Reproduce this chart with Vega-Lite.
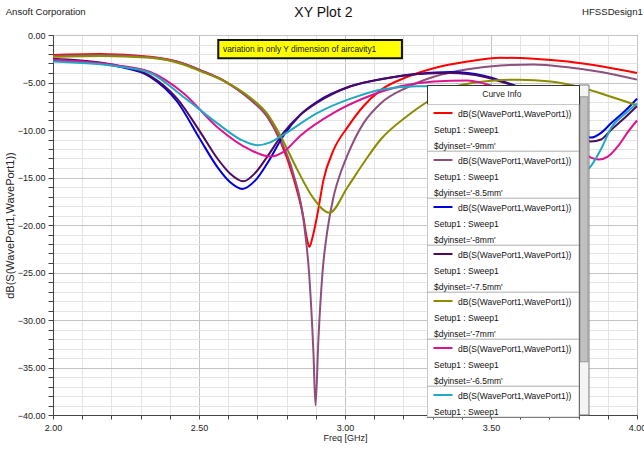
{
  "$schema": "https://vega.github.io/schema/vega-lite/v6.json",
  "width": 584,
  "height": 380,
  "autosize": {"type": "none"},
  "padding": {"left": 53, "top": 35, "right": 7, "bottom": 35},
  "background": "white",
  "config": {
    "font": "Liberation Sans, Arial, sans-serif",
    "view": {"stroke": "#444", "strokeWidth": 1}
  },
  "layer": [
    {
      "data": {"values": [
        {"series": "$dyinset='-9mm'", "freq": 2.000, "db": -2.1},
        {"series": "$dyinset='-9mm'", "freq": 2.161, "db": -2.0},
        {"series": "$dyinset='-9mm'", "freq": 2.333, "db": -2.3},
        {"series": "$dyinset='-9mm'", "freq": 2.446, "db": -3.0},
        {"series": "$dyinset='-9mm'", "freq": 2.504, "db": -3.7},
        {"series": "$dyinset='-9mm'", "freq": 2.590, "db": -4.9},
        {"series": "$dyinset='-9mm'", "freq": 2.676, "db": -6.8},
        {"series": "$dyinset='-9mm'", "freq": 2.734, "db": -8.6},
        {"series": "$dyinset='-9mm'", "freq": 2.779, "db": -11.2},
        {"series": "$dyinset='-9mm'", "freq": 2.823, "db": -15.0},
        {"series": "$dyinset='-9mm'", "freq": 2.858, "db": -19.3},
        {"series": "$dyinset='-9mm'", "freq": 2.870, "db": -21.5},
        {"series": "$dyinset='-9mm'", "freq": 2.878, "db": -22.3},
        {"series": "$dyinset='-9mm'", "freq": 2.888, "db": -21.4},
        {"series": "$dyinset='-9mm'", "freq": 2.906, "db": -18.8},
        {"series": "$dyinset='-9mm'", "freq": 2.926, "db": -15.3},
        {"series": "$dyinset='-9mm'", "freq": 2.961, "db": -12.1},
        {"series": "$dyinset='-9mm'", "freq": 3.009, "db": -9.7},
        {"series": "$dyinset='-9mm'", "freq": 3.063, "db": -7.5},
        {"series": "$dyinset='-9mm'", "freq": 3.122, "db": -5.8},
        {"series": "$dyinset='-9mm'", "freq": 3.214, "db": -4.4},
        {"series": "$dyinset='-9mm'", "freq": 3.304, "db": -3.5},
        {"series": "$dyinset='-9mm'", "freq": 3.420, "db": -2.8},
        {"series": "$dyinset='-9mm'", "freq": 3.533, "db": -2.4},
        {"series": "$dyinset='-9mm'", "freq": 3.647, "db": -2.5},
        {"series": "$dyinset='-9mm'", "freq": 3.763, "db": -2.8},
        {"series": "$dyinset='-9mm'", "freq": 3.877, "db": -3.3},
        {"series": "$dyinset='-9mm'", "freq": 4.000, "db": -4.0},

        {"series": "$dyinset='-8.5mm'", "freq": 2.000, "db": -2.2},
        {"series": "$dyinset='-8.5mm'", "freq": 2.161, "db": -2.1},
        {"series": "$dyinset='-8.5mm'", "freq": 2.333, "db": -2.35},
        {"series": "$dyinset='-8.5mm'", "freq": 2.446, "db": -3.0},
        {"series": "$dyinset='-8.5mm'", "freq": 2.504, "db": -3.7},
        {"series": "$dyinset='-8.5mm'", "freq": 2.590, "db": -4.9},
        {"series": "$dyinset='-8.5mm'", "freq": 2.676, "db": -6.8},
        {"series": "$dyinset='-8.5mm'", "freq": 2.734, "db": -8.6},
        {"series": "$dyinset='-8.5mm'", "freq": 2.779, "db": -11.0},
        {"series": "$dyinset='-8.5mm'", "freq": 2.823, "db": -14.6},
        {"series": "$dyinset='-8.5mm'", "freq": 2.858, "db": -19.5},
        {"series": "$dyinset='-8.5mm'", "freq": 2.878, "db": -25.5},
        {"series": "$dyinset='-8.5mm'", "freq": 2.892, "db": -33.5},
        {"series": "$dyinset='-8.5mm'", "freq": 2.899, "db": -39.0},
        {"series": "$dyinset='-8.5mm'", "freq": 2.909, "db": -32.0},
        {"series": "$dyinset='-8.5mm'", "freq": 2.923, "db": -25.0},
        {"series": "$dyinset='-8.5mm'", "freq": 2.940, "db": -20.5},
        {"series": "$dyinset='-8.5mm'", "freq": 2.961, "db": -17.0},
        {"series": "$dyinset='-8.5mm'", "freq": 2.985, "db": -14.5},
        {"series": "$dyinset='-8.5mm'", "freq": 3.009, "db": -12.6},
        {"series": "$dyinset='-8.5mm'", "freq": 3.063, "db": -9.3},
        {"series": "$dyinset='-8.5mm'", "freq": 3.122, "db": -7.2},
        {"series": "$dyinset='-8.5mm'", "freq": 3.214, "db": -5.5},
        {"series": "$dyinset='-8.5mm'", "freq": 3.304, "db": -4.4},
        {"series": "$dyinset='-8.5mm'", "freq": 3.420, "db": -3.6},
        {"series": "$dyinset='-8.5mm'", "freq": 3.533, "db": -3.2},
        {"series": "$dyinset='-8.5mm'", "freq": 3.647, "db": -3.1},
        {"series": "$dyinset='-8.5mm'", "freq": 3.763, "db": -3.4},
        {"series": "$dyinset='-8.5mm'", "freq": 3.877, "db": -3.9},
        {"series": "$dyinset='-8.5mm'", "freq": 4.000, "db": -4.7},

        {"series": "$dyinset='-8mm'", "freq": 2.000, "db": -2.7},
        {"series": "$dyinset='-8mm'", "freq": 2.161, "db": -3.0},
        {"series": "$dyinset='-8mm'", "freq": 2.220, "db": -3.3},
        {"series": "$dyinset='-8mm'", "freq": 2.333, "db": -4.4},
        {"series": "$dyinset='-8mm'", "freq": 2.425, "db": -7.0},
        {"series": "$dyinset='-8mm'", "freq": 2.504, "db": -11.0},
        {"series": "$dyinset='-8mm'", "freq": 2.563, "db": -13.9},
        {"series": "$dyinset='-8mm'", "freq": 2.607, "db": -15.5},
        {"series": "$dyinset='-8mm'", "freq": 2.648, "db": -16.2},
        {"series": "$dyinset='-8mm'", "freq": 2.693, "db": -15.3},
        {"series": "$dyinset='-8mm'", "freq": 2.734, "db": -13.5},
        {"series": "$dyinset='-8mm'", "freq": 2.789, "db": -10.6},
        {"series": "$dyinset='-8mm'", "freq": 2.847, "db": -8.4},
        {"series": "$dyinset='-8mm'", "freq": 2.906, "db": -7.0},
        {"series": "$dyinset='-8mm'", "freq": 3.019, "db": -5.4},
        {"series": "$dyinset='-8mm'", "freq": 3.132, "db": -4.6},
        {"series": "$dyinset='-8mm'", "freq": 3.249, "db": -4.1},
        {"series": "$dyinset='-8mm'", "freq": 3.362, "db": -3.9},
        {"series": "$dyinset='-8mm'", "freq": 3.420, "db": -4.0},
        {"series": "$dyinset='-8mm'", "freq": 3.475, "db": -4.3},
        {"series": "$dyinset='-8mm'", "freq": 3.533, "db": -4.8},
        {"series": "$dyinset='-8mm'", "freq": 3.647, "db": -6.2},
        {"series": "$dyinset='-8mm'", "freq": 3.739, "db": -8.2},
        {"series": "$dyinset='-8mm'", "freq": 3.808, "db": -10.3},
        {"series": "$dyinset='-8mm'", "freq": 3.842, "db": -10.8},
        {"series": "$dyinset='-8mm'", "freq": 3.877, "db": -10.3},
        {"series": "$dyinset='-8mm'", "freq": 3.911, "db": -9.3},
        {"series": "$dyinset='-8mm'", "freq": 3.962, "db": -7.9},
        {"series": "$dyinset='-8mm'", "freq": 4.000, "db": -6.7},

        {"series": "$dyinset='-7.5mm'", "freq": 2.000, "db": -2.5},
        {"series": "$dyinset='-7.5mm'", "freq": 2.161, "db": -2.9},
        {"series": "$dyinset='-7.5mm'", "freq": 2.220, "db": -3.2},
        {"series": "$dyinset='-7.5mm'", "freq": 2.333, "db": -4.3},
        {"series": "$dyinset='-7.5mm'", "freq": 2.425, "db": -6.7},
        {"series": "$dyinset='-7.5mm'", "freq": 2.504, "db": -10.2},
        {"series": "$dyinset='-7.5mm'", "freq": 2.563, "db": -13.0},
        {"series": "$dyinset='-7.5mm'", "freq": 2.607, "db": -14.6},
        {"series": "$dyinset='-7.5mm'", "freq": 2.652, "db": -15.4},
        {"series": "$dyinset='-7.5mm'", "freq": 2.693, "db": -14.5},
        {"series": "$dyinset='-7.5mm'", "freq": 2.734, "db": -12.8},
        {"series": "$dyinset='-7.5mm'", "freq": 2.789, "db": -10.3},
        {"series": "$dyinset='-7.5mm'", "freq": 2.847, "db": -8.4},
        {"series": "$dyinset='-7.5mm'", "freq": 2.906, "db": -7.1},
        {"series": "$dyinset='-7.5mm'", "freq": 3.019, "db": -5.4},
        {"series": "$dyinset='-7.5mm'", "freq": 3.132, "db": -4.6},
        {"series": "$dyinset='-7.5mm'", "freq": 3.249, "db": -4.1},
        {"series": "$dyinset='-7.5mm'", "freq": 3.362, "db": -4.0},
        {"series": "$dyinset='-7.5mm'", "freq": 3.475, "db": -4.4},
        {"series": "$dyinset='-7.5mm'", "freq": 3.533, "db": -4.9},
        {"series": "$dyinset='-7.5mm'", "freq": 3.647, "db": -6.2},
        {"series": "$dyinset='-7.5mm'", "freq": 3.739, "db": -8.0},
        {"series": "$dyinset='-7.5mm'", "freq": 3.808, "db": -10.5},
        {"series": "$dyinset='-7.5mm'", "freq": 3.842, "db": -11.2},
        {"series": "$dyinset='-7.5mm'", "freq": 3.877, "db": -11.0},
        {"series": "$dyinset='-7.5mm'", "freq": 3.911, "db": -10.0},
        {"series": "$dyinset='-7.5mm'", "freq": 3.962, "db": -8.6},
        {"series": "$dyinset='-7.5mm'", "freq": 4.000, "db": -7.5},

        {"series": "$dyinset='-7mm'", "freq": 2.000, "db": -2.3},
        {"series": "$dyinset='-7mm'", "freq": 2.161, "db": -2.2},
        {"series": "$dyinset='-7mm'", "freq": 2.333, "db": -2.4},
        {"series": "$dyinset='-7mm'", "freq": 2.446, "db": -3.1},
        {"series": "$dyinset='-7mm'", "freq": 2.504, "db": -3.8},
        {"series": "$dyinset='-7mm'", "freq": 2.590, "db": -4.9},
        {"series": "$dyinset='-7mm'", "freq": 2.676, "db": -6.6},
        {"series": "$dyinset='-7mm'", "freq": 2.734, "db": -8.3},
        {"series": "$dyinset='-7mm'", "freq": 2.779, "db": -10.6},
        {"series": "$dyinset='-7mm'", "freq": 2.837, "db": -14.2},
        {"series": "$dyinset='-7mm'", "freq": 2.892, "db": -17.2},
        {"series": "$dyinset='-7mm'", "freq": 2.947, "db": -18.7},
        {"series": "$dyinset='-7mm'", "freq": 3.009, "db": -16.0},
        {"series": "$dyinset='-7mm'", "freq": 3.063, "db": -13.5},
        {"series": "$dyinset='-7mm'", "freq": 3.122, "db": -11.0},
        {"series": "$dyinset='-7mm'", "freq": 3.214, "db": -8.5},
        {"series": "$dyinset='-7mm'", "freq": 3.283, "db": -7.0},
        {"series": "$dyinset='-7mm'", "freq": 3.362, "db": -5.6},
        {"series": "$dyinset='-7mm'", "freq": 3.475, "db": -4.9},
        {"series": "$dyinset='-7mm'", "freq": 3.592, "db": -4.7},
        {"series": "$dyinset='-7mm'", "freq": 3.705, "db": -4.9},
        {"series": "$dyinset='-7mm'", "freq": 3.818, "db": -5.6},
        {"series": "$dyinset='-7mm'", "freq": 3.911, "db": -6.5},
        {"series": "$dyinset='-7mm'", "freq": 4.000, "db": -7.4},

        {"series": "$dyinset='-6.5mm'", "freq": 2.000, "db": -2.6},
        {"series": "$dyinset='-6.5mm'", "freq": 2.220, "db": -3.2},
        {"series": "$dyinset='-6.5mm'", "freq": 2.333, "db": -3.9},
        {"series": "$dyinset='-6.5mm'", "freq": 2.446, "db": -6.1},
        {"series": "$dyinset='-6.5mm'", "freq": 2.563, "db": -9.7},
        {"series": "$dyinset='-6.5mm'", "freq": 2.676, "db": -12.1},
        {"series": "$dyinset='-6.5mm'", "freq": 2.744, "db": -12.8},
        {"series": "$dyinset='-6.5mm'", "freq": 2.789, "db": -12.3},
        {"series": "$dyinset='-6.5mm'", "freq": 2.847, "db": -10.6},
        {"series": "$dyinset='-6.5mm'", "freq": 2.961, "db": -8.2},
        {"series": "$dyinset='-6.5mm'", "freq": 3.077, "db": -6.5},
        {"series": "$dyinset='-6.5mm'", "freq": 3.190, "db": -5.4},
        {"series": "$dyinset='-6.5mm'", "freq": 3.304, "db": -4.9},
        {"series": "$dyinset='-6.5mm'", "freq": 3.420, "db": -4.8},
        {"series": "$dyinset='-6.5mm'", "freq": 3.475, "db": -5.1},
        {"series": "$dyinset='-6.5mm'", "freq": 3.533, "db": -5.7},
        {"series": "$dyinset='-6.5mm'", "freq": 3.647, "db": -7.2},
        {"series": "$dyinset='-6.5mm'", "freq": 3.739, "db": -9.6},
        {"series": "$dyinset='-6.5mm'", "freq": 3.808, "db": -12.0},
        {"series": "$dyinset='-6.5mm'", "freq": 3.842, "db": -12.9},
        {"series": "$dyinset='-6.5mm'", "freq": 3.870, "db": -13.1},
        {"series": "$dyinset='-6.5mm'", "freq": 3.900, "db": -12.8},
        {"series": "$dyinset='-6.5mm'", "freq": 3.935, "db": -11.7},
        {"series": "$dyinset='-6.5mm'", "freq": 3.969, "db": -10.2},
        {"series": "$dyinset='-6.5mm'", "freq": 4.000, "db": -9.0},

        {"series": "$dyinset='-6mm'", "freq": 2.000, "db": -2.8},
        {"series": "$dyinset='-6mm'", "freq": 2.220, "db": -3.3},
        {"series": "$dyinset='-6mm'", "freq": 2.333, "db": -4.0},
        {"series": "$dyinset='-6mm'", "freq": 2.446, "db": -6.5},
        {"series": "$dyinset='-6mm'", "freq": 2.563, "db": -9.3},
        {"series": "$dyinset='-6mm'", "freq": 2.642, "db": -11.0},
        {"series": "$dyinset='-6mm'", "freq": 2.700, "db": -11.6},
        {"series": "$dyinset='-6mm'", "freq": 2.744, "db": -11.3},
        {"series": "$dyinset='-6mm'", "freq": 2.789, "db": -10.5},
        {"series": "$dyinset='-6mm'", "freq": 2.906, "db": -8.2},
        {"series": "$dyinset='-6mm'", "freq": 3.019, "db": -6.7},
        {"series": "$dyinset='-6mm'", "freq": 3.132, "db": -5.7},
        {"series": "$dyinset='-6mm'", "freq": 3.249, "db": -5.4},
        {"series": "$dyinset='-6mm'", "freq": 3.304, "db": -5.4},
        {"series": "$dyinset='-6mm'", "freq": 3.420, "db": -5.7},
        {"series": "$dyinset='-6mm'", "freq": 3.533, "db": -6.6},
        {"series": "$dyinset='-6mm'", "freq": 3.647, "db": -8.6},
        {"series": "$dyinset='-6mm'", "freq": 3.739, "db": -11.5},
        {"series": "$dyinset='-6mm'", "freq": 3.790, "db": -14.0},
        {"series": "$dyinset='-6mm'", "freq": 3.815, "db": -14.5},
        {"series": "$dyinset='-6mm'", "freq": 3.842, "db": -13.8},
        {"series": "$dyinset='-6mm'", "freq": 3.877, "db": -12.0},
        {"series": "$dyinset='-6mm'", "freq": 3.911, "db": -9.8},
        {"series": "$dyinset='-6mm'", "freq": 3.962, "db": -8.2},
        {"series": "$dyinset='-6mm'", "freq": 4.000, "db": -7.2}
      ]},
      "mark": {"type": "line", "interpolate": "monotone", "strokeWidth": 2},
      "encoding": {
        "x": {
          "field": "freq", "type": "quantitative",
          "scale": {"domain": [2, 4], "nice": false, "zero": false},
          "axis": {
            "title": "Freq [GHz]",
            "values": [2, 2.1, 2.2, 2.3, 2.4, 2.5, 2.6, 2.7, 2.8, 2.9, 3, 3.1, 3.2, 3.3, 3.4, 3.5, 3.6, 3.7, 3.8, 3.9, 4],
            "tickCount": 100,
            "labelExpr": "abs(datum.value*2 - round(datum.value*2)) < 0.001 ? format(datum.value, '.2f') : ''",
            "labelFlush": false, "labelOverlap": false,
            "tickSize": 4,
            "gridColor": {"condition": {"test": "abs(datum.value*2 - round(datum.value*2)) < 0.001", "value": "#c4c4c4"}, "value": "#e4e4e4"},
            "domainColor": "#444", "tickColor": "#444",
            "labelFontSize": 9, "labelColor": "#222", "labelPadding": 4,
            "titleFontSize": 9, "titleFontWeight": "normal", "titleColor": "#222", "titlePadding": 1
          }
        },
        "y": {
          "field": "db", "type": "quantitative",
          "scale": {"domain": [-40, 0], "nice": false, "zero": false},
          "axis": {
            "title": "dB(S(WavePort1,WavePort1))",
            "values": [-40, -39, -38, -37, -36, -35, -34, -33, -32, -31, -30, -29, -28, -27, -26, -25, -24, -23, -22, -21, -20, -19, -18, -17, -16, -15, -14, -13, -12, -11, -10, -9, -8, -7, -6, -5, -4, -3, -2, -1, 0],
            "tickCount": 100,
            "labelExpr": "datum.value % 5 === 0 ? format(datum.value, '.2f') : ''",
            "labelFlush": false, "labelOverlap": false,
            "tickSize": 5,
            "gridColor": {"condition": {"test": "datum.value % 5 === 0", "value": "#c4c4c4"}, "value": "#e4e4e4"},
            "domainColor": "#444", "tickColor": "#444",
            "labelFontSize": 9, "labelColor": "#222", "labelPadding": 3,
            "titleFontSize": 11, "titleFontWeight": "normal", "titleColor": "#222", "titlePadding": 2
          }
        },
        "color": {
          "field": "series", "type": "nominal",
          "scale": {
            "domain": ["$dyinset='-9mm'", "$dyinset='-8.5mm'", "$dyinset='-8mm'", "$dyinset='-7.5mm'", "$dyinset='-7mm'", "$dyinset='-6.5mm'", "$dyinset='-6mm'"],
            "range": ["#ff0000", "#8c4f7e", "#0000dd", "#4e0a5e", "#8c8c00", "#dd1490", "#20a8c4"]
          },
          "legend": {
            "orient": "none", "legendX": 374, "legendY": 50,
            "title": "\u200b\u2003\u2003\u2003\u2003\u2003\u2003\u2002Curve Info", "titleAnchor": "start", "titleFontSize": 8.5, "titleFontWeight": "normal", "titleColor": "#222", "titleBaseline": "top", "titlePadding": 10.5,
            "symbolType": "stroke", "symbolSize": 361, "symbolStrokeWidth": 2,
            "labelFontSize": 8.5, "labelColor": "#111", "labelLimit": 300, "labelBaseline": "top",
            "labelExpr": "test(/-6mm/, datum.label) ? ['\u200b\u2003\u2003\u00a0\u00a0\u00a0dB(S(WavePort1,WavePort1))\u2002\u00a0\u200b', 'Setup1 : Sweep1'] : ['\u200b\u2003\u2003\u00a0\u00a0\u00a0dB(S(WavePort1,WavePort1))\u2002\u00a0\u200b', 'Setup1 : Sweep1', datum.label]",
            "padding": 0, "rowPadding": 0, "strokeColor": "#333", "fillColor": "white",
            "encoding": {
              "title": {"dy": {"value": 5}},
              "symbols": {"x": {"value": 16}, "y": {"value": 9}},
              "labels": {"x": {"value": 7}, "y": {"value": 5.5}, "lineHeight": {"value": 16}},
              "entries": {
                "width": {"value": 151},
                "stroke": {"value": "#c8c8c8"},
                "strokeWidth": {"value": 1}
              }
            }
          }
        }
      }
    },
    {
      "data": {"values": [{"part": "scrollbar track"}]},
      "mark": {"type": "rect", "fill": "#f4f4f4", "stroke": "#777", "strokeWidth": 1},
      "encoding": {
        "x": {"datum": 3.8014, "type": "quantitative", "scale": {"domain": [2, 4], "nice": false, "zero": false}},
        "x2": {"datum": 3.8356},
        "y": {"datum": -5.26, "type": "quantitative", "scale": {"domain": [-40, 0], "nice": false, "zero": false}},
        "y2": {"datum": -40}
      }
    },
    {
      "data": {"values": [{"part": "scrollbar thumb"}]},
      "mark": {"type": "rect", "fill": "#c0c0c0", "stroke": "#999", "strokeWidth": 1},
      "encoding": {
        "x": {"datum": 3.8048, "type": "quantitative", "scale": {"domain": [2, 4], "nice": false, "zero": false}},
        "x2": {"datum": 3.8322},
        "y": {"datum": -6.5, "type": "quantitative", "scale": {"domain": [-40, 0], "nice": false, "zero": false}},
        "y2": {"datum": -34.4}
      }
    },
    {
      "data": {"values": [{"note": "variation in only Y dimension of aircavity1"}]},
      "mark": {"type": "rect", "fill": "#ffff00", "stroke": "#111", "strokeWidth": 2},
      "encoding": {
        "x": {"datum": 2.566, "type": "quantitative", "scale": {"domain": [2, 4], "nice": false, "zero": false}},
        "x2": {"datum": 3.195},
        "y": {"datum": -0.53, "type": "quantitative", "scale": {"domain": [-40, 0], "nice": false, "zero": false}},
        "y2": {"datum": -2.45}
      }
    },
    {
      "data": {"values": [{"note": "variation in only Y dimension of aircavity1"}]},
      "mark": {"type": "text", "align": "left", "baseline": "middle", "fontSize": 8.4, "color": "#111"},
      "encoding": {
        "x": {"datum": 2.582, "type": "quantitative", "scale": {"domain": [2, 4], "nice": false, "zero": false}},
        "y": {"datum": -1.5, "type": "quantitative", "scale": {"domain": [-40, 0], "nice": false, "zero": false}},
        "text": {"field": "note"}
      }
    },
    {
      "data": {"values": [{"note": "Ansoft Corporation"}]},
      "mark": {"type": "text", "align": "left", "baseline": "middle", "fontSize": 9.6, "color": "#222"},
      "encoding": {
        "x": {"datum": 1.838, "type": "quantitative", "scale": {"domain": [2, 4], "nice": false, "zero": false}},
        "y": {"datum": 2.45, "type": "quantitative", "scale": {"domain": [-40, 0], "nice": false, "zero": false}},
        "text": {"field": "note"}
      }
    },
    {
      "data": {"values": [{"note": "HFSSDesign1"}]},
      "mark": {"type": "text", "align": "right", "baseline": "middle", "fontSize": 9.6, "color": "#222"},
      "encoding": {
        "x": {"datum": 4.02, "type": "quantitative", "scale": {"domain": [2, 4], "nice": false, "zero": false}},
        "y": {"datum": 2.45, "type": "quantitative", "scale": {"domain": [-40, 0], "nice": false, "zero": false}},
        "text": {"field": "note"}
      }
    },
    {
      "data": {"values": [{"note": "XY Plot 2"}]},
      "mark": {"type": "text", "align": "center", "baseline": "middle", "fontSize": 14, "color": "#111"},
      "encoding": {
        "x": {"datum": 2.926, "type": "quantitative", "scale": {"domain": [2, 4], "nice": false, "zero": false}},
        "y": {"datum": 2.3, "type": "quantitative", "scale": {"domain": [-40, 0], "nice": false, "zero": false}},
        "text": {"field": "note"}
      }
    }
  ]
}
